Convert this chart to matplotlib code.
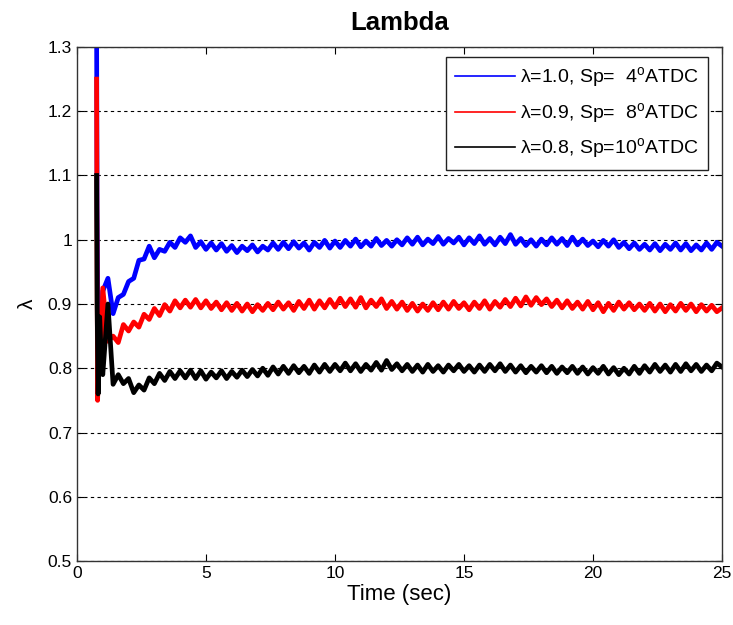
import numpy as np
import matplotlib
matplotlib.use('Agg')
import matplotlib.pyplot as plt

plt.rcParams['font.family'] = ['Liberation Sans', 'DejaVu Sans']
plt.rcParams['mathtext.fontset'] = 'custom'
plt.rcParams['mathtext.rm'] = 'Liberation Sans'

# time grid of the steady part (s), sampled every 0.2 s
t_main = np.round(np.arange(1.0, 25.001, 0.2), 2)

# start-up transient (before t = 1.0 s)
t_blue0 = [0.76, 0.78, 0.82, 0.88, 0.94]
blue0 = [1.34, 1.05, 0.83, 0.90, 0.86]
t_red0 = [0.76, 0.78, 0.80, 0.86, 0.92]
red0 = [1.25, 0.95, 0.75, 0.86, 0.80]
t_black0 = [0.76, 0.78, 0.82, 0.88, 0.94]
black0 = [1.10, 0.90, 0.76, 0.88, 0.82]

blue = [0.92, 0.94, 0.885, 0.91, 0.915, 0.935, 0.94, 0.968, 0.97, 0.99,
        0.972, 0.985, 0.982, 0.996, 0.988, 1.003, 0.996, 1.006, 0.988, 0.997,
        0.985, 0.995, 0.984, 0.994, 0.982, 0.991, 0.98, 0.99, 0.983, 0.992,
        0.981, 0.99, 0.984, 0.995, 0.985, 0.996, 0.986, 0.997, 0.987, 0.995,
        0.984, 0.996, 0.988, 0.999, 0.987, 0.998, 0.988, 0.999, 0.99, 1.001,
        0.989, 0.998, 0.99, 1.002, 0.991, 0.999, 0.99, 1.0, 0.992, 1.003,
        0.993, 1.004, 0.992, 1.001, 0.994, 1.005, 0.993, 1.002, 0.995, 1.004,
        0.992, 1.003, 0.994, 1.006, 0.993, 1.002, 0.992, 1.004, 0.994, 1.008,
        0.993, 1.002, 0.991, 1.0, 0.99, 1.001, 0.992, 1.003, 0.993, 1.002,
        0.991, 1.004, 0.992, 1.001, 0.991, 0.998, 0.989, 0.999, 0.99, 1.0,
        0.988, 0.996, 0.986, 0.995, 0.985, 0.993, 0.984, 0.994, 0.983, 0.993,
        0.985, 0.995, 0.984, 0.994, 0.983, 0.992, 0.984, 0.995, 0.985, 0.996,
        0.99]

red = [0.925, 0.842, 0.85, 0.84, 0.868, 0.858, 0.872, 0.864, 0.884, 0.876,
       0.893, 0.882, 0.899, 0.889, 0.905, 0.894, 0.906, 0.895, 0.907, 0.894,
       0.905, 0.893, 0.903, 0.891, 0.902, 0.89, 0.901, 0.889, 0.9, 0.888,
       0.899, 0.89, 0.901, 0.891, 0.903, 0.892, 0.902, 0.89, 0.904, 0.893,
       0.906, 0.892, 0.905, 0.894, 0.907, 0.895, 0.909, 0.896, 0.908, 0.895,
       0.91, 0.894, 0.906, 0.896, 0.908, 0.893, 0.904, 0.892, 0.903, 0.89,
       0.901, 0.889, 0.9, 0.89, 0.902, 0.891, 0.903, 0.892, 0.904, 0.893,
       0.902, 0.891, 0.903, 0.893, 0.905, 0.892, 0.904, 0.895, 0.907, 0.896,
       0.909, 0.897, 0.911, 0.898, 0.91, 0.899, 0.908, 0.896, 0.906, 0.894,
       0.905, 0.893, 0.903, 0.892, 0.904, 0.891, 0.902, 0.888, 0.901, 0.89,
       0.903, 0.892, 0.902, 0.891, 0.9, 0.89, 0.901, 0.889, 0.9, 0.888,
       0.899, 0.889, 0.901, 0.89, 0.9, 0.888, 0.899, 0.889, 0.898, 0.888,
       0.894]

black = [0.79, 0.9, 0.775, 0.79, 0.776, 0.784, 0.762, 0.774, 0.766, 0.785,
         0.776, 0.792, 0.781, 0.795, 0.784, 0.796, 0.785, 0.797, 0.784, 0.796,
         0.783, 0.794, 0.785, 0.796, 0.784, 0.795, 0.786, 0.797, 0.787, 0.798,
         0.788, 0.8, 0.789, 0.802, 0.791, 0.803, 0.792, 0.804, 0.793, 0.803,
         0.792, 0.805, 0.794, 0.806, 0.795, 0.806, 0.796, 0.808, 0.796, 0.807,
         0.795, 0.806, 0.797, 0.809, 0.797, 0.812, 0.798, 0.807, 0.796, 0.806,
         0.795, 0.805, 0.794, 0.806, 0.795, 0.804, 0.794, 0.805, 0.796, 0.806,
         0.795, 0.804, 0.794, 0.805, 0.795, 0.806, 0.796, 0.807, 0.795, 0.805,
         0.794, 0.804, 0.793, 0.803, 0.794, 0.804, 0.793, 0.803, 0.792, 0.802,
         0.793, 0.803, 0.792, 0.802, 0.791, 0.801, 0.792, 0.803, 0.791, 0.801,
         0.79, 0.8, 0.791, 0.803, 0.792, 0.804, 0.794, 0.806, 0.795, 0.805,
         0.794, 0.806, 0.795, 0.807, 0.796, 0.806, 0.795, 0.805, 0.796, 0.808,
         0.802]

labels = ['λ=1.0, Sp=  4$^{\\rm o}$ATDC',
          'λ=0.9, Sp=  8$^{\\rm o}$ATDC',
          'λ=0.8, Sp=10$^{\\rm o}$ATDC']
yticks = [0.5, 0.6, 0.7, 0.8, 0.9, 1.0, 1.1, 1.2, 1.3]
ytick_labels = ['0.5', '0.6', '0.7', '0.8', '0.9', '1', '1.1', '1.2', '1.3']

fig = plt.figure(figsize=(7.33, 6.25), dpi=100)
ax = fig.add_axes([0.105, 0.1024, 0.88, 0.8224])

ax.plot(list(t_blue0) + list(t_main), blue0 + blue, color='#0000ff', lw=3.4, label=labels[0])
ax.plot(list(t_red0) + list(t_main), red0 + red, color='#ff0000', lw=3.4, label=labels[1])
ax.plot(list(t_black0) + list(t_main), black0 + black, color='black', lw=3.4, label=labels[2])

ax.set_xlim(0, 25)
ax.set_ylim(0.5, 1.3)
ax.set_xticks([0, 5, 10, 15, 20, 25])
ax.set_yticks(yticks)
ax.set_yticklabels(ytick_labels)
ax.yaxis.grid(True, linestyle=(0, (3, 3)), color='black', lw=0.8)
ax.set_axisbelow(True)
ax.tick_params(direction='in', top=True, right=True, labelsize=12.5, length=5, width=0.8)
for s in ax.spines.values():
    s.set_color('#333333')
    s.set_linewidth(1.0)

ax.set_title('Lambda', fontsize=18.5, fontweight='bold', pad=12)
ax.set_xlabel('Time (sec)', fontsize=16, labelpad=2)
ax.set_ylabel('λ', fontsize=15, labelpad=8)

leg = ax.legend(loc='upper right', bbox_to_anchor=(0.978, 0.981), borderaxespad=0,
                fontsize=14, handlelength=3.1, handletextpad=0.28, borderpad=0.45,
                fancybox=False, framealpha=1, edgecolor='#222222', labelspacing=0.55)
leg.get_frame().set_linewidth(1.0)
for h in leg.get_lines():
    h.set_linewidth(1.2)

fig.savefig('out.png', dpi=100)
